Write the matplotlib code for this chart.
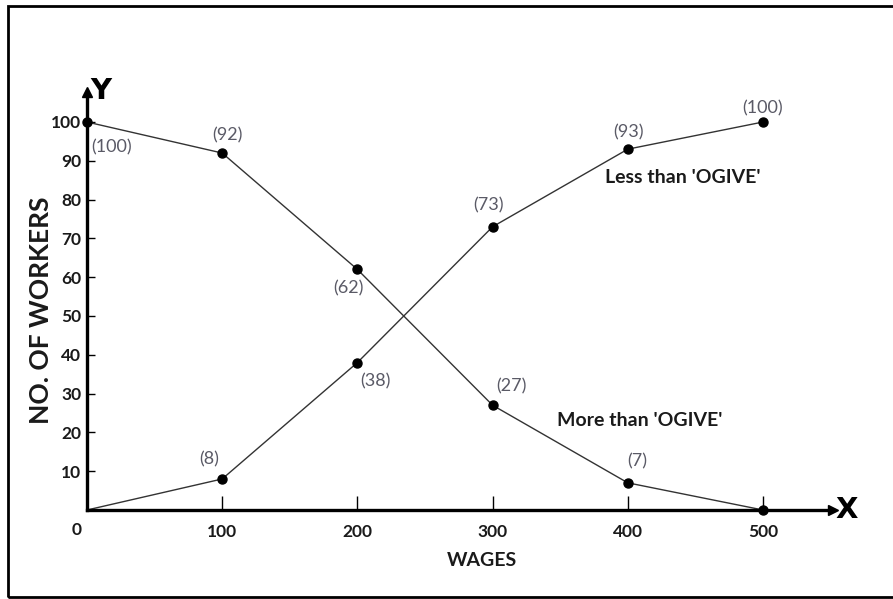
#ogive chart: less than / more than cumulative frequency of workers by wages
import matplotlib.pyplot as plt
from matplotlib.patches import Rectangle

wages = [0, 100, 200, 300, 400, 500]
less_than = [0, 8, 38, 73, 93, 100]
more_than = [100, 92, 62, 27, 7, 0]
y_ticks = [10, 20, 30, 40, 50, 60, 70, 80, 90, 100]
x_ticks = [100, 200, 300, 400, 500]

# label offsets in pixels (dx, dy) for each point, None = no label
less_offsets = [None, (-13, 20), (18, -19), (-4, 21), (1, 17), (0, 14)]
more_offsets = [(4, -25), (5, 18), (-9, -19), (19, 19), (9, 21), None]

plt.rcParams['font.family'] = ['Lato', 'DejaVu Sans']

fig = plt.figure(figsize=(8.93, 5.99), dpi=100)
W, H = 893.0, 599.0
# axes from origin (87,510) to arrow tips (833,92)
ax = fig.add_axes([87/W, (H-510)/H, (833-87)/W, (510-92)/H])
ax.set_xlim(0, 500*(833-87)/(763-87))
ax.set_ylim(0, 100*(510-92)/(510-122))
ax.patch.set_alpha(0)

for s in ['top', 'right']:
    ax.spines[s].set_visible(False)
for s in ['left', 'bottom']:
    ax.spines[s].set_linewidth(2.4)
    ax.spines[s].set_color('black')

# arrow heads
ax.plot(1, 0, '>k', ms=7, transform=ax.get_yaxis_transform(), clip_on=False)
ax.plot(0, 1, '^k', ms=7, transform=ax.get_xaxis_transform(), clip_on=False)
ax.text(1.003, 0, 'X', transform=ax.transAxes, fontsize=21, fontweight='bold',
        ha='left', va='center', family='DejaVu Sans')
ax.text(0.004, 0.984, 'Y', transform=ax.transAxes, fontsize=21, fontweight='bold',
        ha='left', va='baseline', family='DejaVu Sans')

ax.set_xticks(x_ticks)
ax.set_yticks(y_ticks)
ax.tick_params(axis='x', direction='in', length=10, width=1, pad=10, labelsize=12.5)
ax.tick_params(axis='y', direction='in', length=6, width=1, pad=4, labelsize=12.5)
for lab in ax.get_xticklabels() + ax.get_yticklabels():
    lab.set_fontweight('bold')
    lab.set_color('#1a1a1a')
ax.annotate('0', (0, 0), xytext=(-10, -20), textcoords='offset pixels',
            ha='center', va='center', fontsize=12.5, fontweight='bold', color='#1a1a1a')

ax.set_xlabel('WAGES', fontsize=14, fontweight='bold', color='#1a1a1a')
ax.xaxis.set_label_coords(0.53, -0.1)
ax.set_ylabel('NO. OF WORKERS', fontsize=19, fontweight='bold', color='#1a1a1a')
ax.yaxis.set_label_coords(-0.045, 0.478)

ax.plot(wages, less_than, color='#333333', lw=1, clip_on=False)
ax.plot(wages[1:], less_than[1:], 'o', color='black', ms=6.5, clip_on=False)
ax.plot(wages, more_than, color='#333333', lw=1, clip_on=False)
ax.plot(wages, more_than, 'o', color='black', ms=6.5, clip_on=False)

for x, y, off in zip(wages, less_than, less_offsets):
    if off:
        ax.annotate('(%d)' % y, (x, y), xytext=off, textcoords='offset pixels',
                    ha='center', va='center', fontsize=13, color='#5a5a66')
for x, y, off in zip(wages, more_than, more_offsets):
    if off:
        ha = 'left' if x == 0 else 'center'
        ax.annotate('(%d)' % y, (x, y), xytext=off, textcoords='offset pixels',
                    ha=ha, va='center', fontsize=13, color='#5a5a66')

ax.text(383, 85.6, "Less than 'OGIVE'", fontsize=14, fontweight='bold',
        color='#1a1a1a', ha='left', va='center')
ax.text(348, 23, "More than 'OGIVE'", fontsize=14, fontweight='bold',
        color='#1a1a1a', ha='left', va='center')

# frame around the picture
fig.patches.append(Rectangle((8/W, 2/H), 1.0, (597-6)/H, transform=fig.transFigure,
                             fill=False, lw=2, ec='black'))

fig.savefig('out.png', dpi=100)
